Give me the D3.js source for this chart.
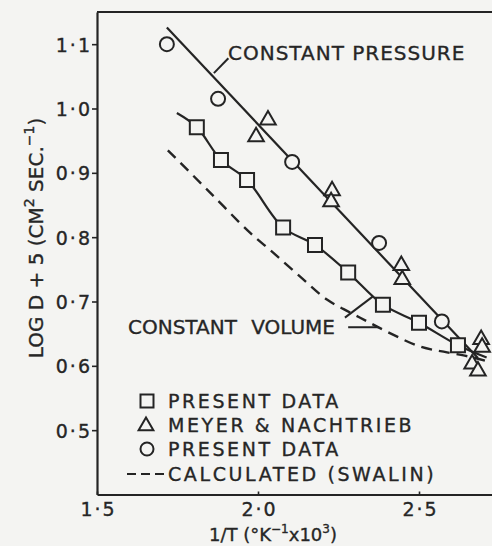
<!DOCTYPE html>
<html>
<head>
<meta charset="utf-8">
<script src="https://cdn.jsdelivr.net/npm/d3@7"></script>
<style>
  html, body { margin: 0; padding: 0; background: #f4f4f2; }
  svg { display: block; }
  text { font-family: "DejaVu Sans", sans-serif; fill: #262626; stroke: #262626; stroke-width: 0.35px; }
</style>
</head>
<body>
<svg id="canvas" width="492" height="546"></svg>
<script>
// circles - present data (constant pressure)
let circleX = [1.717, 1.876, 2.106, 2.376, 2.571]
let circleY = [1.100, 1.015, 0.917, 0.791, 0.669]

// triangles - Meyer & Nachtrieb
let triangleX = [1.994, 2.031, 2.230, 2.227, 2.445, 2.448, 2.693, 2.696, 2.665, 2.683]
let triangleY = [0.956, 0.982, 0.872, 0.855, 0.756, 0.734, 0.641, 0.629, 0.603, 0.592]

// squares - present data (constant volume)
let squareX = [1.810, 1.885, 1.966, 2.078, 2.177, 2.280, 2.388, 2.500, 2.621]
let squareY = [0.971, 0.920, 0.889, 0.815, 0.788, 0.745, 0.695, 0.667, 0.632]

// drawn curves
let pressureX = [1.717, 2.683]
let pressureY = [1.126, 0.612]
let volumeX = [1.748, 1.810, 1.885, 1.966, 2.078, 2.177, 2.280, 2.388, 2.500, 2.621, 2.710]
let volumeY = [0.993, 0.971, 0.920, 0.889, 0.815, 0.788, 0.745, 0.695, 0.667, 0.632, 0.613]
let calcX = [1.720, 1.842, 1.975, 2.047, 2.130, 2.214, 2.286, 2.339, 2.401, 2.503, 2.587, 2.668, 2.711]
let calcY = [0.935, 0.874, 0.807, 0.776, 0.739, 0.703, 0.683, 0.669, 0.653, 0.630, 0.621, 0.613, 0.607]

let xTicks = [1.5, 2.0, 2.5]
let xTickLabels = ['1·5', '2·0', '2·5']
let yTicks = [0.5, 0.6, 0.7, 0.8, 0.9, 1.0, 1.1]
let yTickLabels = ['0·5', '0·6', '0·7', '0·8', '0·9', '1·0', '1·1']

let legendLabels = ['PRESENT DATA', 'MEYER & NACHTRIEB', 'PRESENT DATA', 'CALCULATED (SWALIN)']

let ink = '#242424'
let paper = '#f4f4f2'

let canvas = d3.select('#canvas')

let x = d3.scaleLinear().domain([1.5, 2.7267]).range([97, 492])
let y = d3.scaleLinear().domain([0.4, 1.15]).range([494.5, 12])

// axes
let yAxis = canvas.append('g')
    .attr('transform', 'translate(' + x(1.5) + ',0)')
    .call(d3.axisLeft(y).tickValues(yTicks).tickSize(5).tickSizeOuter(0).tickPadding(0)
        .tickFormat((d, i) => yTickLabels[i]))
let xAxis = canvas.append('g')
    .attr('transform', 'translate(0,' + y(0.4) + ')')
    .call(d3.axisBottom(x).tickValues(xTicks).tickSize(-3).tickSizeOuter(0).tickPadding(12)
        .tickFormat((d, i) => xTickLabels[i]))

canvas.selectAll('.domain').attr('stroke', ink).attr('stroke-width', 2.2)
canvas.selectAll('.tick line').attr('stroke', ink).attr('stroke-width', 1.6)
canvas.selectAll('.tick text')
    .style('font-family', '"DejaVu Sans", sans-serif')
    .style('font-size', '19px')
    .style('letter-spacing', '2px')
    .attr('fill', ink)
yAxis.selectAll('.tick text').attr('dy', '0.36em')
xAxis.selectAll('.tick text').attr('dy', '0.5em').attr('dx', '1px')

// top border
canvas.append('line')
    .attr('x1', x(1.5)).attr('x2', x(2.7267))
    .attr('y1', y(1.15)).attr('y2', y(1.15))
    .attr('stroke', ink).attr('stroke-width', 2.2)

// curves
let curve = (xs, ys) => d3.line()
    .x(i => x(xs[i])).y(i => y(ys[i]))
    .curve(d3.curveCatmullRom)(d3.range(xs.length))

canvas.append('path').attr('d', curve(pressureX, pressureY))
    .attr('fill', 'none').attr('stroke', ink).attr('stroke-width', 2.2)
canvas.append('path').attr('d', curve(volumeX, volumeY))
    .attr('fill', 'none').attr('stroke', ink).attr('stroke-width', 2.2)
canvas.append('path').attr('d', curve(calcX, calcY))
    .attr('fill', 'none').attr('stroke', ink).attr('stroke-width', 2.4)
    .attr('stroke-dasharray', '11,7')

// leader lines for the labels
let leader = (a, b) => canvas.append('line')
    .attr('x1', x(a[0])).attr('y1', y(a[1]))
    .attr('x2', x(b[0])).attr('y2', y(b[1]))
    .attr('stroke', ink).attr('stroke-width', 2)
leader([1.908, 1.078], [1.863, 1.055])
leader([2.270, 0.675], [2.357, 0.708])
leader([2.280, 0.660], [2.375, 0.660])

// markers
let square = d3.symbol().type(d3.symbolSquare).size(196)
let triangle = d3.symbol().type(d3.symbolTriangle).size(105)

canvas.selectAll('.sq').data(d3.range(squareX.length)).enter().append('path')
    .attr('class', 'sq')
    .attr('d', square)
    .attr('transform', i => 'translate(' + x(squareX[i]) + ',' + y(squareY[i]) + ')')
    .attr('fill', paper).attr('stroke', ink).attr('stroke-width', 2)

canvas.selectAll('.tri').data(d3.range(triangleX.length)).enter().append('path')
    .attr('class', 'tri')
    .attr('d', triangle)
    .attr('transform', i => 'translate(' + x(triangleX[i]) + ',' + y(triangleY[i]) + ')')
    .attr('fill', paper).attr('stroke', ink).attr('stroke-width', 2)

canvas.selectAll('.circ').data(d3.range(circleX.length)).enter().append('circle')
    .attr('class', 'circ')
    .attr('cx', i => x(circleX[i])).attr('cy', i => y(circleY[i]))
    .attr('r', 7)
    .attr('fill', paper).attr('stroke', ink).attr('stroke-width', 2)

// curve labels
canvas.append('text').attr('x', 228).attr('y', 60)
    .style('font-size', '20px').style('letter-spacing', '1px')
    .text('CONSTANT PRESSURE')
canvas.append('text').attr('x', 128).attr('y', 334)
    .style('font-size', '20px').style('word-spacing', '8px')
    .text('CONSTANT VOLUME')

// legend
let legend = canvas.append('g')
let rows = [401, 425, 449, 474]
legend.append('path').attr('d', d3.symbol().type(d3.symbolSquare).size(169))
    .attr('transform', 'translate(147,' + rows[0] + ')')
    .attr('fill', 'none').attr('stroke', ink).attr('stroke-width', 2)
legend.append('path').attr('d', d3.symbol().type(d3.symbolTriangle).size(95))
    .attr('transform', 'translate(146,' + (rows[1] + 1) + ')')
    .attr('fill', 'none').attr('stroke', ink).attr('stroke-width', 2)
legend.append('circle').attr('cx', 147).attr('cy', rows[2]).attr('r', 6.5)
    .attr('fill', 'none').attr('stroke', ink).attr('stroke-width', 2)
legend.append('line').attr('x1', 127).attr('x2', 166).attr('y1', rows[3]).attr('y2', rows[3])
    .attr('stroke', ink).attr('stroke-width', 2).attr('stroke-dasharray', '9,5')

legend.selectAll('text').data(legendLabels).enter().append('text')
    .attr('x', 168)
    .attr('y', (d, i) => rows[i] + 7)
    .style('font-size', '19px')
    .style('letter-spacing', '2.6px')
    .text(d => d)

// axis titles
let yTitle = canvas.append('text')
    .attr('transform', 'translate(43,238) rotate(-90)')
    .attr('text-anchor', 'middle')
    .style('font-size', '20px')
yTitle.append('tspan').text('LOG D + 5 (CM')
yTitle.append('tspan').attr('dy', -9).style('font-size', '14px').text('2')
yTitle.append('tspan').attr('dy', 9).text(' SEC.')
yTitle.append('tspan').attr('dy', -9).style('font-size', '14px').text('−1')
yTitle.append('tspan').attr('dy', 9).text(')')

let xTitle = canvas.append('text')
    .attr('x', 273).attr('y', 541)
    .attr('text-anchor', 'middle')
    .style('font-size', '18px')
xTitle.append('tspan').text('1/T (°K')
xTitle.append('tspan').attr('dy', -8).style('font-size', '12px').text('−1')
xTitle.append('tspan').attr('dy', 8).text('x10')
xTitle.append('tspan').attr('dy', -8).style('font-size', '12px').text('3')
xTitle.append('tspan').attr('dy', 8).text(')')
</script>
</body>
</html>
